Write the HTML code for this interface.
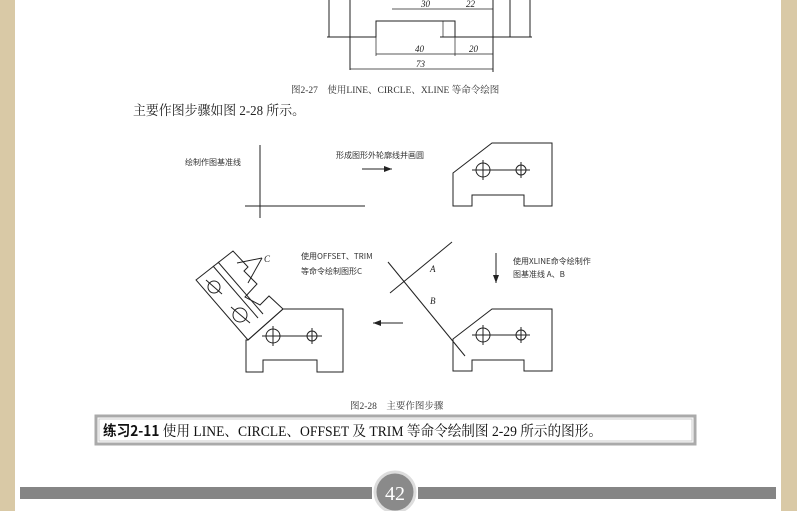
<!DOCTYPE html><html><head><meta charset="utf-8"><style>
body{margin:0;width:797px;height:511px;overflow:hidden;background:#d9c9a6;font-family:"Liberation Serif","Noto Serif CJK SC",serif}
#pg{position:absolute;left:15px;top:0;width:766px;height:511px;background:#fff}
svg{position:absolute;left:0;top:0}
</style></head><body><div id="pg"></div>
<svg width="797" height="511" viewBox="0 0 797 511" font-family="'Liberation Serif','Noto Serif CJK SC',serif">
<g stroke="#222" stroke-width="1" fill="none">
<polyline points="327,37 376,37 376,21 455,21 455,37 532,37"/>
<line x1="350" y1="0" x2="350" y2="70"/><line x1="493" y1="0" x2="493" y2="72"/>
<line x1="329" y1="0" x2="329" y2="37"/><line x1="510" y1="0" x2="510" y2="37"/><line x1="530" y1="0" x2="530" y2="37"/>
<line x1="392" y1="9" x2="493" y2="9" stroke-width=".7"/><line x1="376" y1="54" x2="493" y2="54" stroke-width=".7"/>
<line x1="350" y1="69" x2="493" y2="69" stroke-width=".7"/><line x1="376" y1="37" x2="376" y2="56" stroke-width=".7"/><line x1="455" y1="37" x2="455" y2="56" stroke-width=".7"/>
<line x1="440" y1="37" x2="455" y2="37"/><line x1="443" y1="21" x2="443" y2="37" stroke-width=".7"/>
<line x1="260" y1="145" x2="260" y2="218"/><line x1="245" y1="206" x2="365" y2="206"/>
<line x1="362" y1="169" x2="392" y2="169"/>
<polygon points="453,173 492,143 552,143 552,206 524,206 524,195 472,195 472,206 453,206"/>
<circle cx="483" cy="170" r="7"/><circle cx="521" cy="170" r="5"/>
<line x1="472" y1="170" x2="530" y2="170"/><line x1="483" y1="160" x2="483" y2="180"/><line x1="521" y1="162" x2="521" y2="178"/>
<line x1="496" y1="253" x2="496" y2="283"/>
<line x1="390" y1="293" x2="452" y2="242"/><line x1="388" y1="262" x2="465" y2="356"/>
<polygon points="453,339 492,309 552,309 552,371 524,371 524,360 472,360 472,371 453,371"/>
<circle cx="483" cy="335" r="7"/><circle cx="521" cy="335" r="5"/>
<line x1="472" y1="335" x2="530" y2="335"/><line x1="483" y1="325" x2="483" y2="345"/><line x1="521" y1="327" x2="521" y2="343"/>
<line x1="373" y1="323" x2="403" y2="323"/>
<polygon points="248,340 283,309 343,309 343,372 317,372 317,360 263,360 263,372 246,372 246,340"/>
<circle cx="273" cy="336" r="7"/><circle cx="312" cy="336" r="5"/>
<line x1="262" y1="336" x2="322" y2="336"/><line x1="273" y1="326" x2="273" y2="346"/><line x1="312" y1="328" x2="312" y2="344"/>
<polygon points="196,280 233,251 248,267 244,271 257,284 245,297 260,305 269,296 283,309 248,340"/>
<line x1="213" y1="266" x2="258" y2="318"/><line x1="218" y1="262" x2="263" y2="314"/>
<circle cx="214" cy="287" r="6"/><circle cx="240" cy="315" r="7"/>
<line x1="206" y1="280" x2="222" y2="294"/><line x1="231" y1="307" x2="250" y2="323"/>
<line x1="237" y1="263" x2="262" y2="258"/><line x1="248" y1="283" x2="262" y2="258"/>
</g>
<g fill="#222"><polygon points="392,169 384,166 384,172"/><polygon points="496,283 493,275 499,275"/><polygon points="373,323 381,320 381,326"/></g>
<g font-size="9" fill="#222" font-style="italic">
<text x="421" y="7">30</text><text x="466" y="7">22</text><text x="415" y="52">40</text><text x="469" y="52">20</text><text x="416" y="67">73</text>
<text x="430" y="272">A</text><text x="430" y="304">B</text><text x="264" y="262">C</text></g>
<g font-size="8" fill="#333" font-family="'Noto Sans CJK SC',sans-serif">
<text x="185" y="165">绘制作图基准线</text><text x="336" y="158">形成图形外轮廓线并画圆</text>
<text x="301" y="259">使用OFFSET、TRIM</text><text x="301" y="274">等命令绘制图形C</text>
<text x="513" y="264">使用XLINE命令绘制作</text><text x="513" y="277">图基准线 A、B</text></g>
<text x="291" y="93" font-size="9.5" fill="#333">图2-27　使用LINE、CIRCLE、XLINE 等命令绘图</text>
<text x="133" y="115" font-size="13.5" fill="#222" textLength="172" lengthAdjust="spacingAndGlyphs">主要作图步骤如图 2-28 所示。</text>
<text x="350" y="409" font-size="9.5" fill="#333">图2-28　主要作图步骤</text>
<rect x="96" y="416" width="599" height="28" fill="#fff" stroke="#aaa" stroke-width="3"/>
<rect x="99" y="419" width="593" height="22" fill="none" stroke="#ccc" stroke-width="1"/>
<text x="103" y="436" font-size="14.5" fill="#111" textLength="499" lengthAdjust="spacingAndGlyphs"><tspan font-weight="bold" font-family="'Noto Sans CJK SC',sans-serif">练习2-11</tspan>  使用 LINE、CIRCLE、OFFSET 及 TRIM 等命令绘制图 2-29 所示的图形。</text>
<rect x="20" y="487" width="352" height="12" fill="#858585"/><rect x="418" y="487" width="358" height="12" fill="#858585"/>
<circle cx="395" cy="492" r="20" fill="#8a8a8a" stroke="#ddd" stroke-width="3"/>
<text x="395" y="500" font-size="20" fill="#fff" text-anchor="middle">42</text>
</svg></body></html>
